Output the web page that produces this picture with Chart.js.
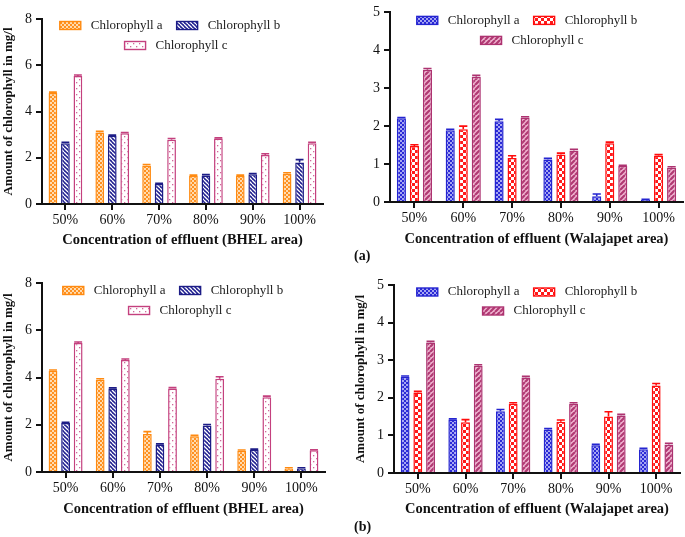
<!DOCTYPE html>
<html>
<head>
<meta charset="utf-8">
<script src="https://cdn.jsdelivr.net/npm/chart.js@4.4.1/dist/chart.umd.min.js"></script>
<style>
body{margin:0;background:#fff;width:685px;height:537px;position:relative;overflow:hidden;font-family:"Liberation Serif",serif}
canvas{position:absolute}
.tag{position:absolute;font:bold 14px "Liberation Serif",serif;color:#111}
</style>
</head>
<body>
<canvas id="c1" width="340" height="255" style="left:0;top:0"></canvas>
<canvas id="c2" width="345" height="255" style="left:340px;top:0"></canvas>
<canvas id="c3" width="340" height="265" style="left:0;top:262px"></canvas>
<canvas id="c4" width="345" height="265" style="left:340px;top:262px"></canvas>
<div class="tag" style="left:354px;top:248px">(a)</div>
<div class="tag" style="left:354px;top:519px">(b)</div>
<script>
const categories = ['50%', '60%', '70%', '80%', '90%', '100%'];
const seriesNames = ['Chlorophyll a', 'Chlorophyll b', 'Chlorophyll c'];

// (a) BHEL area
const aBhelChlA = [4.80, 3.09, 1.67, 1.22, 1.22, 1.31];
const aBhelChlB = [2.63, 2.95, 0.86, 1.23, 1.29, 1.80];
const aBhelChlC = [5.54, 3.06, 2.78, 2.83, 2.12, 2.63];
const aBhelErrA = [0.04, 0.05, 0.04, 0.03, 0.03, 0.04];
const aBhelErrB = [0.04, 0.03, 0.04, 0.04, 0.03, 0.12];
const aBhelErrC = [0.04, 0.03, 0.05, 0.03, 0.05, 0.04];

// (a) Walajapet area
const aWalChlA = [2.21, 1.89, 2.13, 1.12, 0.15, 0.05];
const aWalChlB = [1.48, 1.92, 1.16, 1.25, 1.55, 1.22];
const aWalChlC = [3.49, 3.30, 2.23, 1.36, 0.95, 0.90];
const aWalErrA = [0.02, 0.03, 0.05, 0.03, 0.06, 0.02];
const aWalErrB = [0.03, 0.08, 0.06, 0.04, 0.03, 0.03];
const aWalErrC = [0.03, 0.04, 0.02, 0.03, 0.02, 0.03];

// (b) BHEL area
const bBhelChlA = [4.29, 3.90, 1.61, 1.51, 0.90, 0.14];
const bBhelChlB = [2.07, 3.53, 1.16, 1.97, 0.94, 0.15];
const bBhelChlC = [5.46, 4.74, 3.53, 3.95, 3.16, 0.92];
const bBhelErrA = [0.03, 0.05, 0.10, 0.04, 0.03, 0.04];
const bBhelErrB = [0.03, 0.03, 0.03, 0.04, 0.03, 0.03];
const bBhelErrC = [0.04, 0.04, 0.04, 0.08, 0.05, 0.02];

// (b) Walajapet area
const bWalChlA = [2.56, 1.42, 1.64, 1.15, 0.74, 0.63];
const bWalChlB = [2.14, 1.35, 1.84, 1.36, 1.50, 2.33];
const bWalChlC = [3.47, 2.85, 2.54, 1.84, 1.53, 0.76];
const bWalErrA = [0.02, 0.02, 0.05, 0.03, 0.02, 0.03];
const bWalErrB = [0.03, 0.07, 0.03, 0.05, 0.13, 0.05];
const bWalErrC = [0.03, 0.03, 0.03, 0.03, 0.03, 0.03];

// fill patterns
function makePattern(size, draw) {
  var c = document.createElement('canvas');
  c.width = c.height = size;
  var g = c.getContext('2d');
  draw(g, size);
  return g.createPattern(c, 'repeat');
}
function checker(size, bg, fg) {
  return makePattern(size * 2, function (g) {
    g.fillStyle = bg; g.fillRect(0, 0, size * 2, size * 2);
    g.fillStyle = fg; g.fillRect(0, 0, size, size); g.fillRect(size, size, size, size);
  });
}
function stripes(size, bg, fg, w, back) {
  return makePattern(size, function (g, s) {
    g.fillStyle = bg; g.fillRect(0, 0, s, s);
    g.strokeStyle = fg; g.lineWidth = w;
    g.beginPath();
    for (var k = -1; k <= 1; k++) {
      if (back) { g.moveTo(k * s, 0); g.lineTo(k * s + s, s); }
      else { g.moveTo(k * s, s); g.lineTo(k * s + s, 0); }
    }
    g.stroke();
  });
}
var dots = makePattern(6, function (g) {
  g.fillStyle = '#fff'; g.fillRect(0, 0, 6, 6);
  g.fillStyle = '#d0669a'; g.fillRect(1, 1, 1.3, 1.3); g.fillRect(4, 4, 1.3, 1.3);
});

const bhelStyles = [
  { fill: checker(2, '#ff9020', '#ffdcb0'), border: '#ff8a10' },
  { fill: stripes(4, '#1f1f8f', '#ffffff', 1.3, true), border: '#1c1c86' },
  { fill: dots, border: '#c4407e' }
];
const walStyles = [
  { fill: checker(2, '#2a2ad6', '#a6a6f2'), border: '#2424d0' },
  { fill: checker(3, '#ff1a1a', '#ffffff'), border: '#ff0c0c' },
  { fill: stripes(5, '#efb3d0', '#b13a73', 2.2, false), border: '#ad3270' }
];

// error bars (mean + SD caps)
const errorBars = {
  id: 'errorBars',
  afterDatasetsDraw(chart) {
    const ctx = chart.ctx, y = chart.scales.y;
    chart.data.datasets.forEach(function (ds, i) {
      chart.getDatasetMeta(i).data.forEach(function (bar, j) {
        const top = y.getPixelForValue(ds.data[j] + ds.errors[j]);
        const half = bar.width * 0.45;
        ctx.save();
        ctx.strokeStyle = ds.borderColor; ctx.lineWidth = 1.6;
        ctx.beginPath();
        ctx.moveTo(bar.x, bar.y); ctx.lineTo(bar.x, top);
        ctx.moveTo(bar.x - half, top); ctx.lineTo(bar.x + half, top);
        ctx.stroke();
        ctx.restore();
      });
    });
  }
};

// legend drawn inside the plot area, two rows
const insideLegend = {
  id: 'insideLegend',
  afterDraw(chart, args, opts) {
    const ctx = chart.ctx, area = chart.chartArea, ds = chart.data.datasets;
    ctx.save();
    ctx.font = '13px "Liberation Serif"';
    ctx.textBaseline = 'middle';
    opts.rows.forEach(function (row, r) {
      const widths = row.map(function (i) { return 31 + ctx.measureText(ds[i].label).width; });
      const total = widths.reduce(function (s, w) { return s + w; }, 0) + 14 * (row.length - 1);
      let x = area.left + opts.centers[r] - total / 2;
      const y = area.top + opts.top + r * opts.rowH;
      row.forEach(function (i, k) {
        ctx.fillStyle = ds[i].backgroundColor;
        ctx.fillRect(x, y - 4, 21, 8);
        ctx.strokeStyle = ds[i].borderColor; ctx.lineWidth = 1.4;
        ctx.strokeRect(x, y - 4, 21, 8);
        ctx.fillStyle = '#222';
        ctx.fillText(ds[i].label, x + 31, y);
        x += widths[k] + 14;
      });
    });
    ctx.restore();
  }
};

function panel(id, p) {
  const datasets = p.values.map(function (v, i) {
    return {
      label: seriesNames[i], data: v, errors: p.errors[i],
      backgroundColor: p.styles[i].fill, borderColor: p.styles[i].border,
      borderWidth: 1.5, categoryPercentage: 0.8, barPercentage: 0.7
    };
  });
  new Chart(document.getElementById(id), {
    type: 'bar',
    data: { labels: categories, datasets: datasets },
    plugins: [errorBars, insideLegend],
    options: {
      responsive: false, animation: false,
      layout: { padding: { top: p.padTop, right: p.padRight, left: 0, bottom: 0 } },
      plugins: {
        legend: { display: false }, tooltip: { enabled: false },
        insideLegend: p.legend
      },
      scales: {
        x: {
          border: { display: true, color: '#111', width: 2 },
          grid: { drawOnChartArea: false, offset: false, color: '#111', lineWidth: 2, tickLength: 6 },
          ticks: { color: '#111', font: { family: 'Liberation Serif', size: 14 }, padding: 2, autoSkip: false, maxRotation: 0 },
          title: { display: true, text: p.xTitle, color: '#111', font: { family: 'Liberation Serif', size: 14.5, weight: 'bold' }, padding: { top: 0, bottom: p.xTitlePad } },
          afterFit: function (s) { s.height = p.xHeight; }
        },
        y: {
          min: 0, max: p.yMax,
          border: { display: true, color: '#111', width: 2 },
          grid: { drawOnChartArea: false, color: '#111', lineWidth: 2, tickLength: 6 },
          ticks: { stepSize: p.yStep, color: '#111', font: { family: 'Liberation Serif', size: 14 }, padding: 4 },
          title: { display: !!p.yTitle, text: p.yTitle || '', color: '#111', font: { family: 'Liberation Serif', size: 13, weight: 'bold' }, padding: { top: p.yTitlePad, bottom: 0 } },
          afterFit: function (s) { s.width = p.yWidth; }
        }
      }
    }
  });
}

panel('c1', {
  values: [aBhelChlA, aBhelChlB, aBhelChlC], errors: [aBhelErrA, aBhelErrB, aBhelErrC], styles: bhelStyles,
  yMax: 8, yStep: 2, yTitle: 'Amount of chlorophyll in mg/l', yTitlePad: 1,
  xTitle: 'Concentration of effluent (BHEL area)', xTitlePad: 6,
  padTop: 19, padRight: 17, yWidth: 42, xHeight: 51,
  legend: { rows: [[0, 1], [2]], centers: [128, 134], top: 6.5, rowH: 20 }
});
panel('c2', {
  values: [aWalChlA, aWalChlB, aWalChlC], errors: [aWalErrA, aWalErrB, aWalErrC], styles: walStyles,
  yMax: 5, yStep: 1, yTitle: null, yTitlePad: 0,
  xTitle: 'Concentration of effluent (Walajapet area)', xTitlePad: 7,
  padTop: 7, padRight: 2, yWidth: 50, xHeight: 53,
  legend: { rows: [[0, 1], [2]], centers: [137, 142], top: 8, rowH: 20 }
});
panel('c3', {
  values: [bBhelChlA, bBhelChlB, bBhelChlC], errors: [bBhelErrA, bBhelErrB, bBhelErrC], styles: bhelStyles,
  yMax: 8, yStep: 2, yTitle: 'Amount of chlorophyll in mg/l', yTitlePad: 1,
  xTitle: 'Concentration of effluent (BHEL area)', xTitlePad: 9,
  padTop: 21, padRight: 15, yWidth: 42, xHeight: 55,
  legend: { rows: [[0, 1], [2]], centers: [131, 138], top: 7.5, rowH: 20 }
});
panel('c4', {
  values: [bWalChlA, bWalChlB, bWalChlC], errors: [bWalErrA, bWalErrB, bWalErrC], styles: walStyles,
  yMax: 5, yStep: 1, yTitle: 'Amount of chlorophyll in mg/l', yTitlePad: 13,
  xTitle: 'Concentration of effluent (Walajapet area)', xTitlePad: 9,
  padTop: 23, padRight: 5, yWidth: 54, xHeight: 54,
  legend: { rows: [[0, 1], [2]], centers: [133, 140], top: 7, rowH: 19 }
});
</script>
</body>
</html>
